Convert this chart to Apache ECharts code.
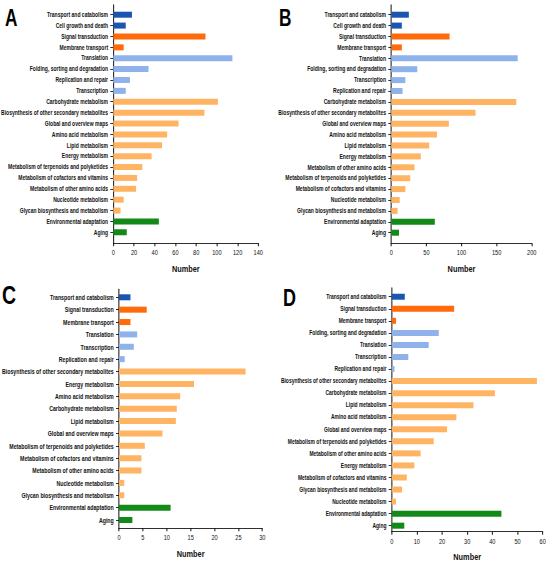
<!DOCTYPE html>
<html>
<head>
<meta charset="utf-8">
<script src="https://cdn.jsdelivr.net/npm/echarts@6/dist/echarts.min.js"></script>
<style>
  html, body { margin: 0; padding: 0; background: #fff; overflow: hidden; }
  #wrap { width: 550px; height: 564px; overflow: hidden; }
  /* the source figure is squeezed horizontally; draw wide, then squeeze */
  #main { width: 733.33px; height: 564px; transform: scaleX(0.75); transform-origin: 0 0; }
</style>
</head>
<body>
<div id="wrap"><div id="main"></div></div>
<script>
// panel A
var catsA = ['Transport and catabolism', 'Cell growth and death', 'Signal transduction', 'Membrane transport',
  'Translation', 'Folding, sorting and degradation', 'Replication and repair', 'Transcription',
  'Carbohydrate metabolism', 'Biosynthesis of other secondary metabolites', 'Global and overview maps',
  'Amino acid metabolism', 'Lipid metabolism', 'Energy metabolism', 'Metabolism of terpenoids and polyketides',
  'Metabolism of cofactors and vitamins', 'Metabolism of other amino acids', 'Nucleotide metabolism',
  'Glycan biosynthesis and metabolism', 'Environmental adaptation', 'Aging']
var valsA = [18, 12, 89, 10, 115, 34, 16, 12, 101, 88, 63, 52, 47, 37, 28, 23, 22, 10, 7, 44, 13]

// panel B
var catsB = ['Transport and catabolism', 'Cell growth and death', 'Signal transduction', 'Membrane transport',
  'Translation', 'Folding, sorting and degradation', 'Transcription', 'Replication and repair',
  'Carbohydrate metabolism', 'Biosynthesis of other secondary metabolites', 'Global and overview maps',
  'Amino acid metabolism', 'Lipid metabolism', 'Energy metabolism', 'Metabolism of other amino acids',
  'Metabolism of terpenoids and polyketides', 'Metabolism of cofactors and vitamins', 'Nucleotide metabolism',
  'Glycan biosynthesis and metabolism', 'Environmental adaptation', 'Aging']
var valsB = [25, 15, 83, 15, 180, 37, 20, 16, 178, 120, 82, 65, 54, 42, 33, 27, 20, 12, 9, 62, 11]

// panel C
var catsC = ['Transport and catabolism', 'Signal transduction', 'Membrane transport', 'Translation',
  'Transcription', 'Replication and repair', 'Biosynthesis of other secondary metabolites', 'Energy metabolism',
  'Amino acid metabolism', 'Carbohydrate metabolism', 'Lipid metabolism', 'Global and overview maps',
  'Metabolism of terpenoids and polyketides', 'Metabolism of cofactors and vitamins',
  'Metabolism of other amino acids', 'Nucleotide metabolism', 'Glycan biosynthesis and metabolism',
  'Environmental adaptation', 'Aging']
var valsC = [2.4, 5.8, 2.4, 3.8, 3.1, 1.2, 26.5, 15.7, 12.8, 12.1, 11.9, 9.1, 5.4, 4.7, 4.7, 1.1, 1.1, 10.8, 2.8]

// panel D
var catsD = ['Transport and catabolism', 'Signal transduction', 'Membrane transport',
  'Folding, sorting and degradation', 'Translation', 'Transcription', 'Replication and repair',
  'Biosynthesis of other secondary metabolites', 'Carbohydrate metabolism', 'Lipid metabolism',
  'Amino acid metabolism', 'Global and overview maps', 'Metabolism of terpenoids and polyketides',
  'Metabolism of other amino acids', 'Energy metabolism', 'Metabolism of cofactors and vitamins',
  'Glycan biosynthesis and metabolism', 'Nucleotide metabolism', 'Environmental adaptation', 'Aging']
var valsD = [5.2, 24.8, 1.7, 18.7, 14.7, 6.6, 1.1, 57.7, 41, 32.5, 25.7, 22, 16.7, 11.5, 9, 6, 4.1, 1.7, 43.6, 5]

// KEGG level-1 groups
var cellular = ['Transport and catabolism', 'Cell growth and death']
var envInfo = ['Signal transduction', 'Membrane transport']
var genInfo = ['Translation', 'Folding, sorting and degradation', 'Replication and repair', 'Transcription']
var organismal = ['Environmental adaptation', 'Aging']

var FONT = "'Liberation Sans', Arial, sans-serif"
var INK = '#111'
var SX = 0.75 // horizontal squeeze applied by css

function colorOf (name) {
  if (cellular.indexOf(name) >= 0) return '#1a55b0'
  if (envInfo.indexOf(name) >= 0) return '#ff6a0a'
  if (genInfo.indexOf(name) >= 0) return '#8fb2ea'
  if (organismal.indexOf(name) >= 0) return '#138a17'
  return '#ffb464'
}

// page px -> unscaled px
function ux (px) {
  return px / SX
}

var option = {
  animation: false,
  backgroundColor: '#fff',
  textStyle: { fontFamily: FONT },
  title: [],
  grid: [],
  xAxis: [],
  yAxis: [],
  series: []
}

/**
 * one panel = a frame grid (axis lines, x ticks, name) plus a bar grid (bands)
 */
function addPanel (letter, cats, vals, max, interval, box) {
  var k = option.grid.length
  option.title.push({
    text: letter,
    left: ux(box.titleLeft),
    top: box.titleTop,
    padding: 0,
    textStyle: { fontSize: box.titleSize, fontWeight: 'bold', color: '#000', fontFamily: FONT }
  })
  option.grid.push({
    left: ux(box.left), width: ux(box.width), top: box.frameTop, height: box.frameHeight,
    containLabel: false, outerBoundsMode: 'none'
  })
  option.grid.push({
    left: ux(box.left), width: ux(box.width), top: box.barTop, height: box.barHeight,
    containLabel: false, outerBoundsMode: 'none'
  })
  option.xAxis.push({
    gridIndex: k,
    type: 'value',
    min: 0,
    max: max,
    interval: interval,
    axisLine: { show: true, onZero: false, lineStyle: { color: INK, width: 1 } },
    axisTick: { show: true, length: 3, lineStyle: { color: INK, width: 1.33 } },
    axisLabel: { fontSize: 7.5, margin: 5, color: INK, fontFamily: FONT },
    splitLine: { show: false },
    name: 'Number',
    nameLocation: 'middle',
    nameGap: 20,
    nameTextStyle: { fontSize: 9.8, fontWeight: 'bold', color: INK, fontFamily: FONT }
  })
  option.yAxis.push({
    gridIndex: k,
    type: 'value',
    axisLine: { show: true, onZero: false, lineStyle: { color: INK, width: 1.33 } },
    axisTick: { show: false },
    axisLabel: { show: false },
    splitLine: { show: false }
  })
  option.xAxis.push({
    gridIndex: k + 1, type: 'value', min: 0, max: max, show: false
  })
  option.yAxis.push({
    gridIndex: k + 1,
    type: 'category',
    inverse: true,
    data: cats,
    axisLine: { show: false },
    axisTick: { show: true, alignWithLabel: true, length: 4, lineStyle: { color: INK } },
    axisLabel: { interval: 0, margin: 7, fontSize: box.labelSize, fontWeight: 'bold', color: INK, fontFamily: FONT }
  })
  option.series.push({
    type: 'bar',
    xAxisIndex: k + 1,
    yAxisIndex: k + 1,
    barWidth: 6,
    silent: true,
    data: vals.map(function (v, i) {
      return { value: v, itemStyle: { color: colorOf(cats[i]) } }
    })
  })
}

addPanel('A', catsA, valsA, 140, 20, {
  left: 113.3, width: 145, frameTop: 5, frameHeight: 238.3, barTop: 9.26, barHeight: 228.5,
  labelSize: 6.7, titleLeft: 5, titleTop: 7, titleSize: 23
})
addPanel('B', catsB, valsB, 200, 50, {
  left: 391.3, width: 140.4, frameTop: 5, frameHeight: 238.3, barTop: 9.25, barHeight: 228.9,
  labelSize: 6.75, titleLeft: 279, titleTop: 7, titleSize: 23
})
addPanel('C', catsC, valsC, 30, 5, {
  left: 119, width: 143.3, frameTop: 289.3, frameHeight: 239, barTop: 291.1, barHeight: 235.1,
  labelSize: 7, titleLeft: 2, titleTop: 282, titleSize: 26
})
addPanel('D', catsD, valsD, 60, 10, {
  left: 391.7, width: 151, frameTop: 288, frameHeight: 243.7, barTop: 290.7, barHeight: 241,
  labelSize: 6.6, titleLeft: 283, titleTop: 285.5, titleSize: 24
})

var chart = echarts.init(document.getElementById('main'), null, { renderer: 'svg' })
chart.setOption(option)
</script>
</body>
</html>
